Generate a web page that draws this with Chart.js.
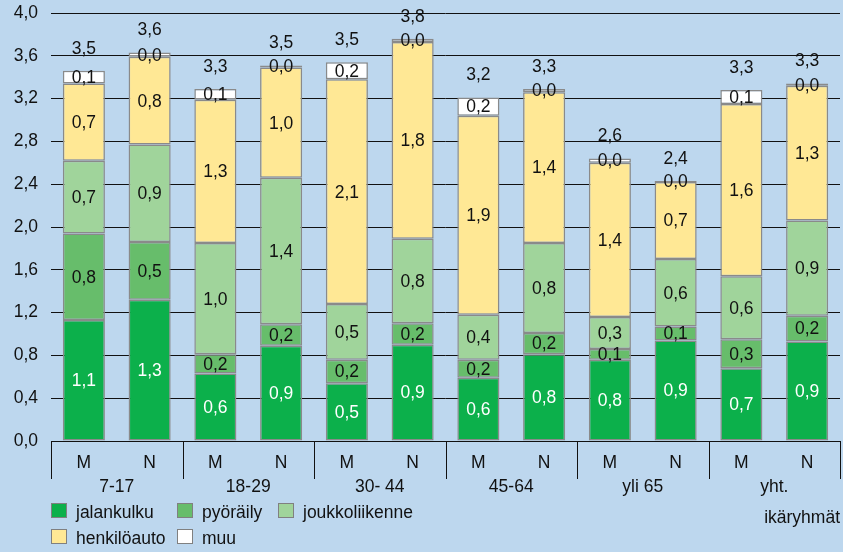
<!DOCTYPE html>
<html>
<head>
<meta charset="utf-8">
<script src="https://cdn.jsdelivr.net/npm/chart.js@4"></script>
<style>
  html, body { margin: 0; padding: 0; background: #bdd7ee; }
  #wrap { width: 843px; height: 552px; }
</style>
</head>
<body>
<div id="wrap"><canvas id="chart" width="843" height="552"></canvas></div>
<script>
// Data
const categories = ['M', 'N', 'M', 'N', 'M', 'N', 'M', 'N', 'M', 'N', 'M', 'N'];
const groups = ['7-17', '18-29', '30- 44', '45-64', 'yli 65', 'yht.'];
const seriesNames = ['jalankulku', 'pyöräily', 'joukkoliikenne', 'henkilöauto', 'muu'];

const jalankulku  = [1.13, 1.32, 0.63, 0.89, 0.54, 0.90, 0.59, 0.81, 0.76, 0.94, 0.68, 0.93];
const pyoraily    = [0.81, 0.54, 0.18, 0.20, 0.22, 0.20, 0.17, 0.20, 0.10, 0.13, 0.27, 0.24];
const joukko      = [0.68, 0.91, 1.04, 1.37, 0.52, 0.79, 0.42, 0.84, 0.30, 0.63, 0.59, 0.89];
const henkiloauto = [0.72, 0.82, 1.34, 1.03, 2.10, 1.84, 1.86, 1.41, 1.44, 0.72, 1.61, 1.26];
const muu         = [0.12, 0.04, 0.10, 0.02, 0.16, 0.03, 0.17, 0.03, 0.04, 0.01, 0.13, 0.02];

const colors = ['#0cb04b', '#67bd6b', '#a0d49b', '#ffe895', '#ffffff'];
const labelColors = ['#ffffff', '#111111', '#111111', '#111111', '#111111'];
const FONT = '"Liberation Sans", Arial, sans-serif';
const SIZE = 17.5;

function fmt(v) {
    return v.toFixed(1).replace('.', ',');
}

// Segment labels, totals, group axis and legend
const extras = {
    id: 'extras',
    afterDatasetsDraw(chart) {
        const ctx = chart.ctx;
        ctx.save();
        ctx.font = SIZE + 'px ' + FONT;
        ctx.textAlign = 'center';
        ctx.textBaseline = 'middle';
        chart.data.datasets.forEach((ds, i) => {
            const meta = chart.getDatasetMeta(i);
            meta.data.forEach((bar, j) => {
                ctx.fillStyle = labelColors[i];
                ctx.fillText(fmt(ds.data[j]), bar.x, (bar.y + bar.base) / 2 + 1);
            });
        });
        // totals
        const top = chart.getDatasetMeta(chart.data.datasets.length - 1);
        top.data.forEach((bar, j) => {
            let sum = 0;
            chart.data.datasets.forEach(ds => { sum += ds.data[j]; });
            ctx.fillStyle = '#111111';
            ctx.fillText(fmt(Math.round(sum * 100) / 100), bar.x, bar.y - 22);
        });
        ctx.restore();
    },
    afterDraw(chart) {
        const ctx = chart.ctx;
        const area = chart.chartArea;
        const w = (area.right - area.left) / groups.length;
        ctx.save();
        ctx.strokeStyle = '#111111';
        ctx.lineWidth = 1;
        for (let k = 0; k <= groups.length; k++) {
            const x = Math.round(area.left + k * w) + 0.5;
            ctx.beginPath();
            ctx.moveTo(x, area.bottom);
            ctx.lineTo(x, area.bottom + 38);
            ctx.stroke();
        }
        ctx.font = SIZE + 'px ' + FONT;
        ctx.fillStyle = '#111111';
        ctx.textAlign = 'center';
        ctx.textBaseline = 'middle';
        groups.forEach((g, k) => {
            ctx.fillText(g, area.left + (k + 0.5) * w, area.bottom + 46);
        });

        // legend
        const pos = [[51, 503], [177, 503], [278, 503], [51, 529], [177, 529]];
        ctx.textAlign = 'left';
        seriesNames.forEach((name, i) => {
            const [x, y] = pos[i];
            ctx.fillStyle = colors[i];
            ctx.fillRect(x, y, 16, 15);
            ctx.strokeStyle = '#808080';
            ctx.strokeRect(x + 0.5, y + 0.5, 15, 14);
            ctx.fillStyle = '#111111';
            ctx.fillText(name, x + 25, y + 10);
        });
        ctx.textAlign = 'right';
        ctx.fillText('ikäryhmät', 840, 518);
        ctx.restore();
    }
};

const datasets = [jalankulku, pyoraily, joukko, henkiloauto, muu].map((d, i) => ({
    label: seriesNames[i],
    data: d,
    backgroundColor: colors[i],
    borderColor: '#8a8a8a',
    borderWidth: 1.5,
    borderSkipped: false,
    barPercentage: 0.64,
    categoryPercentage: 1
}));

const ctx = document.getElementById('chart').getContext('2d');
new Chart(ctx, {
    type: 'bar',
    data: { labels: categories, datasets: datasets },
    options: {
        responsive: false,
        animation: false,
        layout: { padding: { top: 13, right: 3, left: 0, bottom: 0 } },
        plugins: {
            legend: { display: false },
            tooltip: { enabled: false }
        },
        scales: {
            x: {
                stacked: true,
                grid: { drawOnChartArea: false, drawTicks: false },
                border: { display: true, color: '#111111', width: 1 },
                ticks: { color: '#111111', padding: 12, font: { family: FONT, size: SIZE } },
                afterFit: s => { s.height = 111; s.paddingLeft = 0; s.paddingRight = 0; }
            },
            y: {
                stacked: true,
                min: 0,
                max: 4,
                grid: { color: '#111111', drawTicks: false },
                border: { display: false },
                ticks: {
                    stepSize: 0.4,
                    color: '#111111',
                    padding: 13,
                    font: { family: FONT, size: SIZE },
                    callback: v => fmt(v)
                },
                afterFit: s => { s.width = 51; s.paddingTop = 0; s.paddingBottom = 0; }
            }
        }
    },
    plugins: [extras]
});
</script>
</body>
</html>
